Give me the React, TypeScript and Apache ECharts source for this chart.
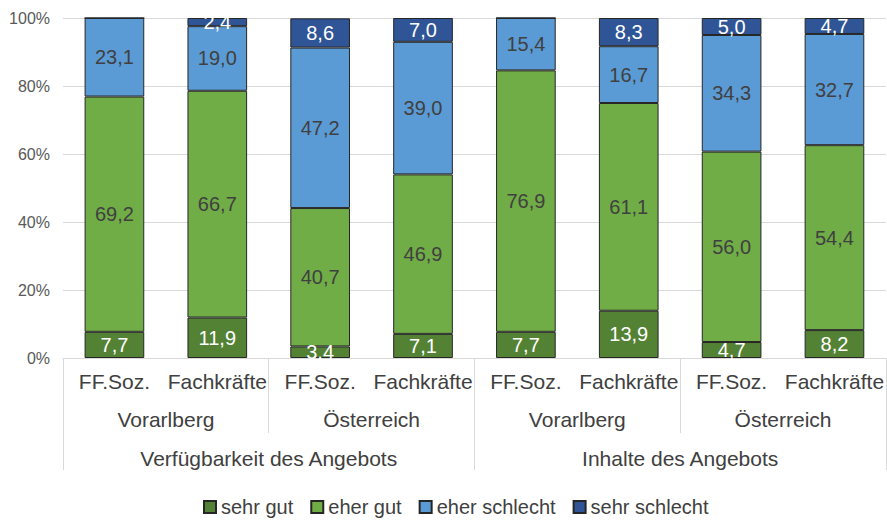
import React, { useEffect, useRef } from "react";
import * as echarts from "echarts";

const categories = ["FF.Soz.", "Fachkräfte", "FF.Soz.", "Fachkräfte", "FF.Soz.", "Fachkräfte", "FF.Soz.", "Fachkräfte"];
const regions = ["Vorarlberg", "Österreich", "Vorarlberg", "Österreich"];
const topics = ["Verfügbarkeit des Angebots", "Inhalte des Angebots"];
const seriesNames = ["sehr gut", "eher gut", "eher schlecht", "sehr schlecht"];
const sehrGut = [7.7, 11.9, 3.4, 7.1, 7.7, 13.9, 4.7, 8.2];
const eherGut = [69.2, 66.7, 40.7, 46.9, 76.9, 61.1, 56.0, 54.4];
const eherSchlecht = [23.1, 19.0, 47.2, 39.0, 15.4, 16.7, 34.3, 32.7];
const sehrSchlecht = [0, 2.4, 8.6, 7.0, 0, 8.3, 5.0, 4.7];
const yTicks = [0, 20, 40, 60, 80, 100];

const colors = ["#548235", "#70AD47", "#5B9BD5", "#2F5597"];
const labelColors = ["#ffffff", "#404040", "#404040", "#ffffff"];
const FONT = "'Liberation Sans', Arial, sans-serif";

export default function App() {
  const ref = useRef<HTMLDivElement>(null);
  useEffect(() => {
    document.body.style.margin = "0";
    const chart = echarts.init(ref.current!, null, { renderer: "svg" });
    const values = [sehrGut, eherGut, eherSchlecht, sehrSchlecht];
    chart.setOption({
      animation: false,
      textStyle: { fontFamily: FONT },
      grid: { left: 63, right: 0, top: 18, bottom: 163 },
      legend: {
        top: 492,
        left: 198,
        icon: "rect",
        itemWidth: 12,
        itemHeight: 12,
        itemGap: 17,
        textStyle: { fontSize: 20, color: "#404040", fontFamily: FONT },
        data: seriesNames,
      },
      xAxis: [
        {
          type: "category",
          data: categories,
          position: "bottom",
          axisLine: { lineStyle: { color: "#d9d9d9" } },
          axisTick: { show: false },
          axisLabel: { fontSize: 21, color: "#404040", margin: 13, interval: 0 },
        },
        {
          type: "category",
          data: regions.map((_, i) => String(i)),
          position: "bottom",
          gridIndex: 0,
          axisLine: { show: false },
          axisTick: { show: true, length: 75, lineStyle: { color: "#d9d9d9" } },
          axisLabel: {
            fontSize: 21,
            color: "#404040",
            margin: 51,
            interval: 0,
            formatter: (v: string) => regions[+v],
          },
        },
        {
          type: "category",
          data: topics.map((_, i) => String(i)),
          position: "bottom",
          gridIndex: 0,
          axisLine: { show: false },
          axisTick: { show: true, length: 112, lineStyle: { color: "#d9d9d9" } },
          axisLabel: {
            fontSize: 21,
            color: "#404040",
            margin: 90,
            interval: 0,
            formatter: (v: string) => topics[+v],
          },
        },
      ],
      yAxis: {
        type: "value",
        min: 0,
        max: 100,
        interval: 20,
        axisLine: { show: false },
        axisTick: { show: false },
        splitLine: { lineStyle: { color: "#d9d9d9" } },
        axisLabel: {
          fontSize: 16,
          color: "#595959",
          margin: 13,
          formatter: (v: number) => (yTicks.includes(v) ? v + "%" : ""),
        },
      },
      series: seriesNames.map((name, si) => ({
        name,
        type: "bar",
        stack: "total",
        barWidth: "58%",
        data: values[si],
        itemStyle: { color: colors[si], borderColor: "#262626", borderWidth: 1 },
        label: {
          show: true,
          position: "inside",
          fontSize: 20,
          color: labelColors[si],
          fontFamily: FONT,
          formatter: (p: any) => (p.value ? p.value.toFixed(1).replace(".", ",") : ""),
        },
      })),
    });
    return () => chart.dispose();
  }, []);
  return <div ref={ref} style={{ width: 887, height: 521 }} />;
}
